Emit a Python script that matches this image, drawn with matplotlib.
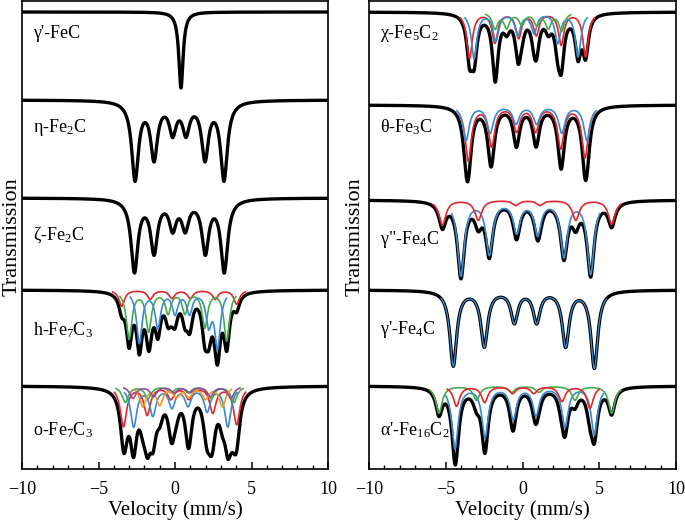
import numpy as np
import matplotlib
matplotlib.use("Agg")
import matplotlib.pyplot as plt

plt.rcParams['font.family'] = ['Liberation Serif', 'DejaVu Serif']
plt.rcParams['mathtext.fontset'] = 'custom'
plt.rcParams['mathtext.rm'] = 'Liberation Serif'
plt.rcParams['mathtext.it'] = 'Liberation Serif:italic'

# line positions (mm/s) and depths (arb.) of each fitted component
# --- left column ---
fec_pos = [0.39]
fec_dep = [76]

eta_pos = [-2.61, -1.37, -0.15, 0.72, 1.96, 3.20]
eta_dep = [78, 56, 30, 30, 56, 78]

zeta_pos = [-2.65, -1.37, -0.15, 0.67, 1.98, 3.22]
zeta_dep = [72, 52, 28, 28, 52, 72]

h_red_pos = [-3.48, -1.62, -0.20, 1.00, 2.62, 4.03]
h_red_dep = [16, 9, 8, 8, 9, 14]
h_green_pos = [-3.00, -1.72, -0.45, 0.65, 1.95, 3.38]
h_green_dep = [48, 40, 22, 22, 36, 50]
h_blue_pos = [-2.33, -1.12, 0.00, 0.95, 2.20, 2.78]
h_blue_dep = [52, 36, 22, 22, 32, 55]

o_red_pos = [-3.37, -1.82, -0.27, 0.90, 2.47, 4.03]
o_red_dep = [40, 28, 12, 12, 26, 38]
o_blue_pos = [-2.70, -1.45, -0.20, 0.85, 2.10, 3.45]
o_blue_dep = [40, 28, 20, 18, 24, 40]
o_green_pos = [-3.25, -1.76, -0.26, 0.86, 2.36, 3.85]
o_green_dep = [16, 12, 6, 6, 12, 16]
o_orange_pos = [-2.10, -1.00, 0.09, 0.91, 2.00, 3.10]
o_orange_dep = [20, 18, 10, 10, 12, 20]
o_purple_pos = [-2.75, -1.40, -0.06, 0.96, 2.30, 3.65]
o_purple_dep = [12, 10, 6, 6, 10, 12]

# --- right column ---
chi_red_pos = [-3.45, -1.80, -0.25, 0.90, 2.52, 4.11]
chi_red_dep = [46, 30, 25, 22, 32, 44]
chi_blue_pos = [-3.15, -1.74, -0.31, 0.75, 2.30, 3.62]
chi_blue_dep = [46, 28, 22, 20, 30, 44]
chi_green_pos = [-1.79, -1.03, -0.05, 0.93, 1.68, 2.55]
chi_green_dep = [16, 15, 12, 12, 15, 18]

theta_red_pos = [-3.53, -2.01, -0.38, 0.86, 2.49, 4.07]
theta_red_dep = [55, 40, 25, 25, 42, 52]
theta_blue_pos = [-3.68, -2.10, -0.42, 0.92, 2.56, 4.20]
theta_blue_dep = [35, 27, 18, 18, 27, 35]

g2_blue_pos = [-4.01, -2.16, -0.38, 0.99, 2.70, 4.44]
g2_blue_dep = [75, 53, 31, 33, 55, 73]
g2_red_pos = [-5.22, -2.88, -0.44, 1.14, 3.47, 5.81]
g2_red_dep = [25, 20, 5, 5, 20, 24]

g4_blue_pos = [-4.51, -2.49, -0.53, 0.92, 2.81, 4.68]
g4_blue_dep = [75, 55, 31, 31, 55, 77]

a_blue_pos = [-4.40, -2.44, -0.60, 0.88, 2.77, 4.68]
a_blue_dep = [62, 50, 32, 28, 40, 48]
a_green_pos = [-5.44, -3.00, -0.71, 1.07, 3.42, 5.81]
a_green_dep = [27, 14, 6, 6, 14, 27]
a_red_pos = [-4.30, -2.47, -0.64, 0.74, 2.57, 4.40]
a_red_dep = [20, 16, 7, 7, 15, 22]

left_names = ["γ'-FeC", "η-Fe$_2$C", "ζ-Fe$_2$C", "h-Fe$_7$C$_3$", "o-Fe$_7$C$_3$"]
right_names = ["χ-Fe$_5$C$_2$", "θ-Fe$_3$C", 'γ"-Fe$_4$C', "γ'-Fe$_4$C",
               "α'-Fe$_{16}$C$_2$"]

RED = '#e4262c'
BLUE = '#3a8ad0'
GREEN = '#45ad4b'
ORANGE = '#f39a1c'
PURPLE = '#934aa0'

v = np.linspace(-10, 10, 4001)


def lorentz(pos, dep, w):
    y = np.zeros_like(v)
    for p, d in zip(pos, dep):
        y += d / (1 + ((v - p) / w) ** 2)
    return y


def draw(ax, base, comps, w, scale=1.0, overlay=None):
    # comps: list of (pos, dep, colour)
    parts = [(lorentz(p, d, w), c, p) for p, d, c in comps]
    total = scale * sum(y for y, _, _ in parts)
    ax.plot(v, base + total, color='black', lw=2.4, zorder=2)
    if overlay is not None:
        p = comps[0][0]
        m = (v >= min(p) - 0.8) & (v <= max(p) + 0.8)
        ax.plot(v[m], base + total[m], color=overlay, lw=0.9, zorder=4)
        return
    if len(parts) < 2:
        return
    for y, c, p in parts:
        lo, hi = min(p) - 0.6, max(p) + 0.6
        m = (v >= lo) & (v <= hi)
        ax.plot(v[m], base + y[m], color=c, lw=1.2, zorder=3)


fig = plt.figure(figsize=(6.85, 5.23), dpi=100)
axL = fig.add_axes([22 / 685, 54 / 523, 306 / 685, 468 / 523])
axR = fig.add_axes([369 / 685, 54 / 523, 307 / 685, 468 / 523])

left_base = [12, 100, 198, 290, 386]
right_base = [12, 105, 200, 290, 386]
left_text_y = [33, 127, 235, 330, 430]
right_text_y = [33, 127, 240, 330, 430]

draw(axL, left_base[0], [(fec_pos, fec_dep, 'k')], 0.17)
draw(axL, left_base[1], [(eta_pos, eta_dep, 'k')], 0.27)
draw(axL, left_base[2], [(zeta_pos, zeta_dep, 'k')], 0.27)
draw(axL, left_base[3], [(h_red_pos, h_red_dep, RED),
                         (h_green_pos, h_green_dep, GREEN),
                         (h_blue_pos, h_blue_dep, BLUE)], 0.22)
draw(axL, left_base[4], [(o_red_pos, o_red_dep, RED),
                         (o_blue_pos, o_blue_dep, BLUE),
                         (o_green_pos, o_green_dep, GREEN),
                         (o_orange_pos, o_orange_dep, ORANGE),
                         (o_purple_pos, o_purple_dep, PURPLE)], 0.25, scale=1.05)

draw(axR, right_base[0], [(chi_red_pos, chi_red_dep, RED),
                          (chi_blue_pos, chi_blue_dep, BLUE),
                          (chi_green_pos, chi_green_dep, GREEN)], 0.22, scale=0.9)
draw(axR, right_base[1], [(theta_red_pos, theta_red_dep, RED),
                          (theta_blue_pos, theta_blue_dep, BLUE)], 0.25, scale=0.9)
draw(axR, right_base[2], [(g2_blue_pos, g2_blue_dep, BLUE),
                          (g2_red_pos, g2_red_dep, RED)], 0.27)
draw(axR, right_base[3], [(g4_blue_pos, g4_blue_dep, BLUE)], 0.27, overlay=BLUE)
draw(axR, right_base[4], [(a_blue_pos, a_blue_dep, BLUE),
                          (a_green_pos, a_green_dep, GREEN),
                          (a_red_pos, a_red_dep, RED)], 0.25, scale=0.95)

for ax, names, ty in [(axL, left_names, left_text_y), (axR, right_names, right_text_y)]:
    for name, y in zip(names, ty):
        ax.text(-9.3, y, name, fontsize=13, ha='left', va='center')
    ax.set_xlim(-10, 10)
    ax.set_ylim(469, 1)
    ax.set_yticks([])
    ax.set_xticks([-10, -5, 0, 5, 10])
    ax.set_xticks(np.arange(-10, 11, 1), minor=True)
    ax.tick_params(axis='x', which='major', direction='in', length=5, width=1.1,
                   labelsize=13, pad=9)
    ax.tick_params(axis='x', which='minor', direction='in', length=3, width=1.0)
    for s in ax.spines.values():
        s.set_linewidth(1.2)
    ax.set_xlabel('Velocity (mm/s)', fontsize=15, labelpad=1)

fig.text(12 / 685, 1 - 237 / 523, 'Transmission', rotation=90, fontsize=16,
         ha='center', va='center')
fig.text(355 / 685, 1 - 237 / 523, 'Transmission', rotation=90, fontsize=16,
         ha='center', va='center')

fig.savefig('out.png', dpi=100)
